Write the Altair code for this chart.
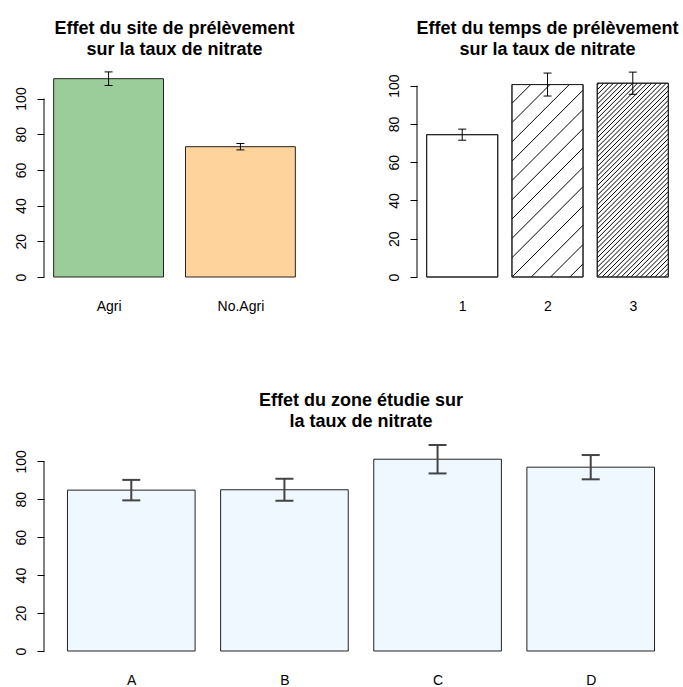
import altair as alt
import pandas as pd

FONT = "Liberation Sans"

# Nitrate rate by sampling site
site_labels = ["Agri", "No.Agri"]
site_means = [111.1, 73.0]
site_se = [3.8, 1.8]
site_fill = ["#9BCD9B", "#FFD39B"]

# Nitrate rate by sampling time (hatch spacing in px, 0 = plain)
time_labels = ["1", "2", "3"]
time_means = [74.4, 100.6, 101.3]
time_se = [2.9, 6.0, 5.8]
time_fill = ["#FFFFFF", "#FFFFFF", "#FFFFFF"]
time_hatch = [0, 19.3, 4.8]

# Nitrate rate by study zone
zone_labels = ["A", "B", "C", "D"]
zone_means = [84.8, 85.0, 101.1, 96.9]
zone_se = [5.4, 5.8, 7.5, 6.4]
zone_fill = ["#F0F8FF"] * 4

Y_TICKS = [0, 20, 40, 60, 80, 100]
PLOT_H = 217
TOP_W = 261
BOTTOM_W = 634


def hatch_segments(lefts, rights, means, spacing, x_per_px, y_per_px):
    """45-degree hatch lines clipped to each bar, returned in data units."""
    rows = []
    for l, r, m, d in zip(lefts, rights, means, spacing):
        if not d:
            continue
        wpx = (r - l) / x_per_px
        hpx = m / y_per_px
        k = int(hpx // d) + 1
        c = -k * d
        while c < wpx:
            u1 = max(0.0, c)
            u2 = min(wpx, c + hpx)
            if u2 > u1:
                rows.append({
                    "hx": l + u1 * x_per_px, "hy": (u1 - c) * y_per_px,
                    "hx2": l + u2 * x_per_px, "hy2": (u2 - c) * y_per_px,
                })
            c += d
    return pd.DataFrame(rows, columns=["hx", "hy", "hx2", "hy2"])


def panel(labels, means, se, fills, title, width, ytop,
          err_color, err_width, cap, title_offset, hatch=None):
    n = len(labels)
    lefts = [0.2 + 1.2 * i for i in range(n)]
    rights = [v + 1.0 for v in lefts]
    centers = [v + 0.5 for v in lefts]
    span = 1.2 * n - 0.2
    xdom = [0.2 - 0.04 * span, 1.2 * n + 0.04 * span]

    df = pd.DataFrame({
        "label": labels, "left": lefts, "right": rights, "center": centers,
        "base": [0.0] * n, "mean": means,
        "lo": [m - s for m, s in zip(means, se)],
        "hi": [m + s for m, s in zip(means, se)],
        "fill": fills,
    })

    xs = alt.Scale(domain=xdom, nice=False, zero=False)
    ys = alt.Scale(domain=[0, ytop], nice=False, zero=False)

    names = ",".join("'" + s + "'" for s in labels)
    x_axis = alt.Axis(
        values=centers, labelExpr=f"[{names}][round((datum.value - 0.7) / 1.2)]",
        domain=False, ticks=False, grid=False, labelPadding=22,
        labelFontSize=14, labelFont=FONT, labelColor="#000", title=None,
    )
    y_axis = alt.Axis(
        values=Y_TICKS, domain=False, tickSize=7, tickColor="#000", grid=False,
        labelAngle=270, labelAlign="center", labelBaseline="alphabetic",
        labelPadding=12, labelFontSize=14, labelFont=FONT, labelColor="#000",
        title=None,
    )

    base = alt.Chart(df)
    bars = base.mark_rect(stroke="#222", strokeWidth=1).encode(
        x=alt.X("left:Q", scale=xs, axis=x_axis),
        x2="right:Q",
        y=alt.Y("base:Q", scale=ys, axis=y_axis),
        y2="mean:Q",
        fill=alt.Color("fill:N", scale=None),
    )
    layers = [bars]

    if hatch is not None:
        x_per_px = (xdom[1] - xdom[0]) / width
        y_per_px = ytop / PLOT_H
        hd = hatch_segments(lefts, rights, means, hatch, x_per_px, y_per_px)
        layers.append(
            alt.Chart(hd).mark_rule(color="#000", strokeWidth=1).encode(
                x=alt.X("hx:Q", scale=xs), y=alt.Y("hy:Q", scale=ys),
                x2="hx2:Q", y2="hy2:Q",
            )
        )
        layers.append(
            base.mark_rect(stroke="#222", strokeWidth=1, fillOpacity=0).encode(
                x=alt.X("left:Q", scale=xs), x2="right:Q",
                y=alt.Y("base:Q", scale=ys), y2="mean:Q",
            )
        )

    axis_line = alt.Chart(
        pd.DataFrame({"lo": [Y_TICKS[0]], "hi": [Y_TICKS[-1]]})
    ).mark_rule(color="#000", strokeWidth=1).encode(
        x=alt.value(0), y=alt.Y("lo:Q", scale=ys), y2="hi:Q",
    )
    stems = base.mark_rule(color=err_color, strokeWidth=err_width).encode(
        x=alt.X("center:Q", scale=xs), y=alt.Y("lo:Q", scale=ys), y2="hi:Q",
    )
    caps_hi = base.mark_tick(orient="horizontal", size=cap, thickness=err_width,
                             color=err_color, opacity=1).encode(
        x=alt.X("center:Q", scale=xs), y=alt.Y("hi:Q", scale=ys),
    )
    caps_lo = base.mark_tick(orient="horizontal", size=cap, thickness=err_width,
                             color=err_color, opacity=1).encode(
        x=alt.X("center:Q", scale=xs), y=alt.Y("lo:Q", scale=ys),
    )
    layers += [axis_line, stems, caps_hi, caps_lo]

    return alt.layer(*layers).properties(
        width=width, height=PLOT_H,
        title=alt.TitleParams(
            text=title, fontSize=18, fontWeight="bold", font=FONT, color="#000",
            anchor="middle", lineHeight=21, offset=title_offset,
        ),
    )


p1 = panel(site_labels, site_means, site_se, site_fill,
           ["Effet du site de prélèvement", "sur la taux de nitrate"],
           TOP_W, PLOT_H / 1.785, "#000", 1, 8, 1)
p2 = panel(time_labels, time_means, time_se, time_fill,
           ["Effet du temps de prélèvement", "sur la taux de nitrate"],
           TOP_W, PLOT_H / 1.913, "#000", 1, 8, 1, hatch=time_hatch)
p3 = panel(zone_labels, zone_means, zone_se, zone_fill,
           ["Effet du zone étudie sur", "la taux de nitrate"],
           BOTTOM_W, PLOT_H / 1.897, "#444", 2, 18, 3)

chart = alt.vconcat(
    alt.hconcat(p1, p2, spacing=82),
    p3,
    spacing=79,
).properties(
    padding={"left": 13, "top": 20, "right": 0, "bottom": 0},
    background="#FFFFFF",
).configure_view(stroke=None)

chart.save("out.html", embed_options={"renderer": "svg", "actions": False})
